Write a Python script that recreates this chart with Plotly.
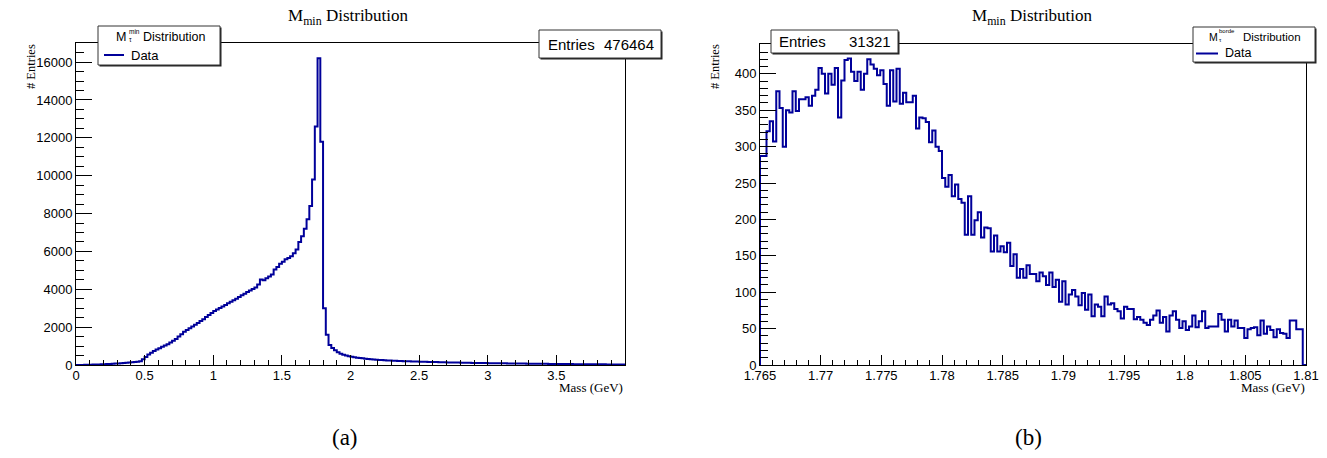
import numpy as np
import plotly.graph_objects as go

W, H = 1327, 458

# ---- data: M_min distribution, 0-4 GeV, 0.02 GeV bins ----
mmin_lo, mmin_hi = 0.0, 4.0
mmin_counts = [
    0, 2, 5, 8, 12, 16, 20, 25, 30, 36, 42, 50, 58, 66, 75, 85, 95, 105, 115, 128,
    140, 155, 175, 200, 300, 420, 560, 650, 740, 820, 890, 960, 1030, 1100, 1190, 1280, 1380, 1500, 1620, 1750,
    1850, 1940, 2030, 2120, 2220, 2320, 2420, 2530, 2640, 2750, 2850, 2930, 3010, 3090, 3170, 3260, 3340, 3420, 3500, 3590,
    3680, 3760, 3850, 3940, 4020, 4100, 4250, 4520, 4480, 4580, 4680, 4780, 5050, 5180, 5350, 5450, 5580, 5650, 5750, 5900,
    6100, 6500, 6800, 7200, 7700, 8400, 9800, 12600, 16200, 11800, 3000, 1600, 1050, 900, 780, 680, 600, 545, 500, 460,
    430, 405, 385, 365, 350, 335, 320, 305, 292, 280, 268, 258, 250, 242, 235, 228, 222, 216, 210, 204,
    198, 193, 188, 184, 179, 175, 171, 167, 163, 159, 155, 152, 148, 145, 142, 138, 135, 132, 129, 126,
    122, 120, 117, 115, 112, 110, 107, 105, 102, 100, 98, 96, 94, 92, 90, 88, 86, 84, 82, 80,
    78, 76, 74, 73, 71, 70, 68, 66, 64, 63, 62, 60, 58, 57, 55, 54, 53, 51, 50, 49,
    48, 46, 45, 44, 43, 42, 41, 40, 38, 37, 36, 35, 34, 33, 32, 31, 30, 29, 28, 27,
]
mmin_entries = "476464"

# ---- data: zoom around the tau mass, 1.765-1.81 GeV ----
zoom_lo, zoom_hi = 1.765, 1.81
zoom_counts = [
    287, 287, 321, 335, 307, 376, 353, 300, 350, 347, 376, 349, 365, 365, 368, 356, 370, 378, 408, 400,
    373, 400, 385, 408, 340, 391, 419, 421, 403, 390, 403, 378, 400, 420, 413, 407, 398, 405, 386, 356,
    405, 362, 407, 359, 374, 361, 361, 370, 325, 340, 339, 334, 306, 322, 300, 294, 257, 245, 261, 232,
    248, 228, 223, 179, 232, 179, 199, 210, 175, 189, 188, 156, 178, 156, 163, 155, 168, 136, 152, 120,
    132, 120, 137, 125, 125, 115, 127, 122, 110, 127, 107, 117, 87, 115, 83, 97, 103, 94, 82,
    99, 76, 97, 67, 83, 80, 67, 94, 83, 85, 77, 74, 64, 80, 77, 77, 63, 66, 62, 58,
    55, 62, 68, 75, 58, 66, 46, 68, 74, 62, 51, 60, 48, 53, 68, 52, 60, 74, 51, 53,
    53, 53, 70, 62, 46, 62, 53, 61, 51, 51, 37, 49, 51, 52, 41, 61, 43, 53, 48, 38,
    49, 44, 43, 37, 61, 61, 49, 49, 0,
]
zoom_entries = "31321"

mmin_ticks = [0, 0.5, 1, 1.5, 2, 2.5, 3, 3.5]
mmin_yticks = list(range(0, 16001, 2000))
zoom_ticks = [1.765, 1.77, 1.775, 1.78, 1.785, 1.79, 1.795, 1.8, 1.805, 1.81]
zoom_ticktext = ["1.765", "1.77", "1.775", "1.78", "1.785", "1.79", "1.795", "1.8", "1.805", "1.81"]
zoom_yticks = list(range(0, 401, 50))

LINE = "#00009a"
SANS = "Liberation Sans"
SERIF = "Liberation Serif"


def px(x):
    return x / W


def py(y):
    return 1 - y / H


def step_xy(lo, hi, counts):
    edges = np.linspace(lo, hi, len(counts) + 1)
    xs = [edges[0]] + list(edges[:-1]) + [edges[-1]]
    ys = [0] + list(counts) + [0]
    return xs, ys


fig = go.Figure()

xa, ya = step_xy(mmin_lo, mmin_hi, mmin_counts)
fig.add_trace(go.Scatter(x=xa, y=ya, mode="lines", line=dict(color=LINE, width=2, shape="hv"),
                         xaxis="x", yaxis="y", hoverinfo="skip"))
xb, yb = step_xy(zoom_lo, zoom_hi, zoom_counts)
fig.add_trace(go.Scatter(x=xb, y=yb, mode="lines", line=dict(color=LINE, width=2, shape="hv"),
                         xaxis="x2", yaxis="y2", hoverinfo="skip"))

tickfont = dict(family=SANS, size=13, color="black")
common = dict(showgrid=False, zeroline=False, showline=True, linecolor="black", linewidth=1,
              mirror=True, ticks="inside", tickcolor="black", tickwidth=1, tickfont=tickfont,
              automargin=False)
xcommon = dict(common, ticklabelstandoff=-2)

fig.update_layout(
    width=W, height=H, margin=dict(l=0, r=0, t=0, b=0, pad=0),
    paper_bgcolor="white", plot_bgcolor="white", showlegend=False,
    xaxis=dict(domain=[px(76), px(625)], range=[mmin_lo, mmin_hi], anchor="y",
               tickmode="array", tickvals=mmin_ticks, ticktext=[f"{t:g}" for t in mmin_ticks], ticklen=10,
               minor=dict(tickmode="linear", tick0=0, dtick=0.1, ticks="inside", ticklen=5,
                          tickcolor="black", tickwidth=1, showgrid=False), **xcommon),
    yaxis=dict(domain=[py(365), py(43)], range=[0, 17010], anchor="x",
               tickmode="array", tickvals=mmin_yticks, ticktext=[str(t) for t in mmin_yticks], ticklen=16,
               minor=dict(tickmode="linear", tick0=0, dtick=500, ticks="inside", ticklen=8,
                          tickcolor="black", tickwidth=1, showgrid=False), **common),
    xaxis2=dict(domain=[px(760), px(1306)], range=[zoom_lo, zoom_hi], anchor="y2",
                tickmode="array", tickvals=zoom_ticks, ticktext=zoom_ticktext, ticklen=10,
                minor=dict(tickmode="linear", tick0=1.765, dtick=0.001, ticks="inside", ticklen=5,
                           tickcolor="black", tickwidth=1, showgrid=False), **xcommon),
    yaxis2=dict(domain=[py(365), py(44)], range=[0, 441], anchor="x2",
                tickmode="array", tickvals=zoom_yticks, ticktext=[str(t) for t in zoom_yticks], ticklen=16,
                minor=dict(tickmode="linear", tick0=0, dtick=10, ticks="inside", ticklen=8,
                           tickcolor="black", tickwidth=1, showgrid=False), **common),
)

shapes = []
annotations = []


def box(x0, y0, x1, y1):
    # ROOT-style pave: black drop shadow then a white box with a thin border
    shapes.append(dict(type="rect", xref="paper", yref="paper", layer="above",
                       x0=px(x0 + 1.5), x1=px(x1 + 1.5), y0=py(y1 + 1.5), y1=py(y0 + 1.5),
                       fillcolor="#222222", line=dict(width=0)))
    shapes.append(dict(type="rect", xref="paper", yref="paper", layer="above",
                       x0=px(x0), x1=px(x1), y0=py(y1), y1=py(y0),
                       fillcolor="white", line=dict(color="#333333", width=1)))


def text(x, y, s, size, family=SANS, xanchor="left", angle=0):
    annotations.append(dict(xref="paper", yref="paper", x=px(x), y=py(y), text=s, showarrow=False,
                            xanchor=xanchor, yanchor="middle", textangle=angle,
                            font=dict(family=family, size=size, color="black")))


def legend_line(x0, x1, y):
    shapes.append(dict(type="line", xref="paper", yref="paper", layer="above",
                       x0=px(x0), x1=px(x1), y0=py(y), y1=py(y), line=dict(color=LINE, width=2)))


# left panel: legend and stats box
box(98, 26, 220, 65)
text(114, 36.5, "M", 12.5)
text(126.5, 32, "min", 6.5)
text(126.5, 40, "τ", 6.5)
text(141, 36.5, "Distribution", 12.5)
legend_line(104, 124, 55)
text(129, 55, "Data", 13)
box(539, 30, 661, 58)
text(546, 44, "Entries", 15)
text(656, 44, mmin_entries, 15, xanchor="right")

# right panel: stats box and legend
box(771, 30, 898, 53)
text(777, 42, "Entries", 15)
text(893, 42, zoom_entries, 15, xanchor="right")
box(1193, 27, 1315, 62)
text(1207, 36.5, "M", 10.5)
text(1217, 31.5, "borde", 6)
text(1217, 39.5, "τ", 6)
text(1241, 36.5, "Distribution", 11.5)
legend_line(1196, 1218, 53.5)
text(1223, 53.5, "Data", 12.5)

# titles, axis titles and captions
text(348.5, 17, "M<sub>min</sub> Distribution", 17, family=SERIF, xanchor="center")
text(1032, 17, "M<sub>min</sub> Distribution", 17, family=SERIF, xanchor="center")
text(31, 67, "# Entries", 12.5, family=SERIF, xanchor="center", angle=-90)
text(715, 67, "# Entries", 12.5, family=SERIF, xanchor="center", angle=-90)
text(625, 387, "Mass (GeV)", 13, family=SERIF, xanchor="right")
text(1307, 387, "Mass (GeV)", 13, family=SERIF, xanchor="right")
text(345, 437, "(a)", 23, family=SERIF, xanchor="center")
text(1028, 437, "(b)", 23, family=SERIF, xanchor="center")

fig.update_layout(shapes=shapes, annotations=annotations)

# keep the page exactly the size of the figure (no default body margin / scrollbars)
page_css = ("document.documentElement.style.margin='0';document.body.style.margin='0';"
            "document.documentElement.style.overflow='hidden';document.body.style.overflow='hidden';")
fig.write_html("out.html", post_script=page_css)
